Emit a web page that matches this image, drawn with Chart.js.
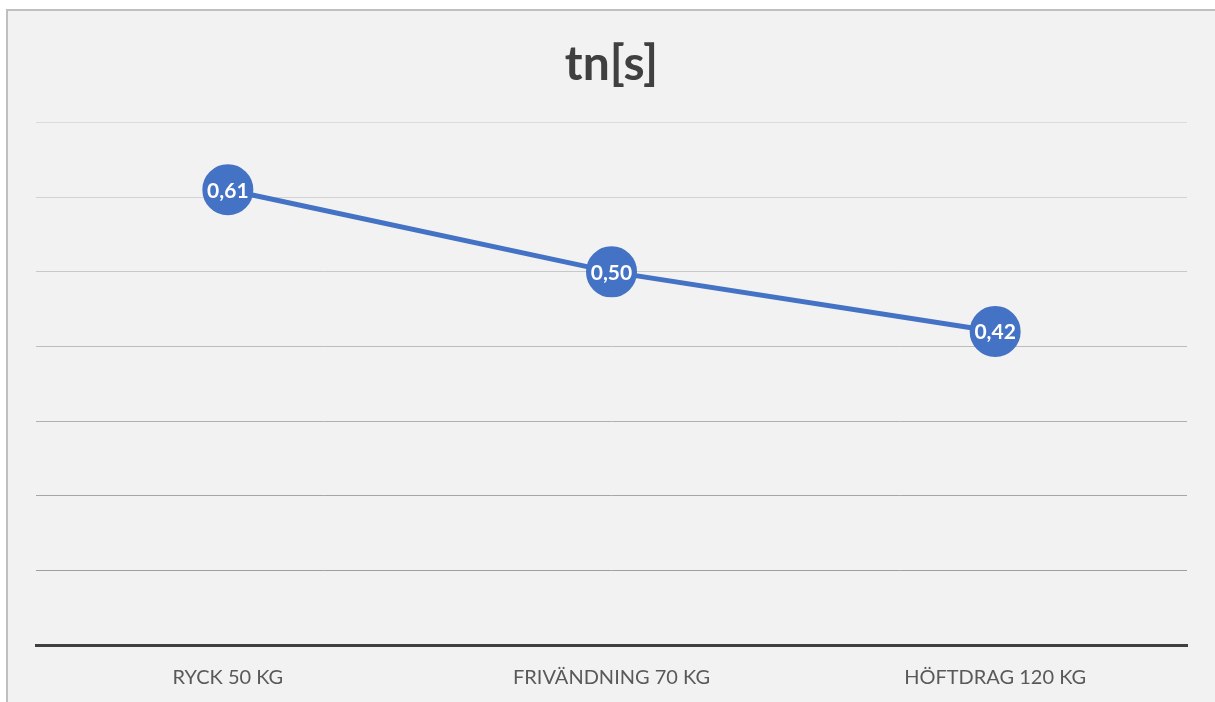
<!DOCTYPE html>
<html>
<head>
<meta charset="utf-8">
<script src="https://cdn.jsdelivr.net/npm/chart.js@4/dist/chart.umd.min.js"></script>
<style>
  html, body { margin: 0; padding: 0; background: #ffffff; }
  #wrap { position: absolute; left: 0; top: 0; width: 1215px; height: 702px; }
</style>
</head>
<body>
<div id="wrap"><canvas id="c" width="1215" height="702"></canvas></div>
<script>
// Lifts and their time values (seconds)
const categories = ['RYCK 50 KG', 'FRIVÄNDNING 70 KG', 'HÖFTDRAG 120 KG'];
const tnValues = [0.61, 0.50, 0.42];
const titleText = 'tn[s]';

const FONT = "Lato, 'Open Sans', sans-serif";

// Panel background with a grey frame on its left and top edges
const panelBackground = {
  id: 'panelBackground',
  beforeDraw(chart) {
    const ctx = chart.ctx;
    ctx.save();
    ctx.fillStyle = '#ffffff';
    ctx.fillRect(0, 0, chart.width, chart.height);
    ctx.fillStyle = '#f2f2f2';
    ctx.fillRect(8, 10, chart.width - 8, chart.height - 10);
    ctx.fillStyle = '#bfbfbf';
    ctx.fillRect(6, 9, 2, chart.height - 9);
    ctx.fillRect(6, 9, chart.width - 6, 2);
    ctx.restore();
  }
};

// White value labels centred inside each point
const pointLabels = {
  id: 'pointLabels',
  afterDatasetsDraw(chart) {
    const ctx = chart.ctx;
    const meta = chart.getDatasetMeta(0);
    const data = chart.data.datasets[0].data;
    ctx.save();
    ctx.fillStyle = '#ffffff';
    ctx.font = `bold 21px ${FONT}`;
    ctx.textAlign = 'center';
    ctx.textBaseline = 'middle';
    meta.data.forEach((pt, i) => {
      const label = data[i].toFixed(2).replace('.', ',');
      ctx.fillText(label, pt.x, pt.y + 1);
    });
    ctx.restore();
  }
};

const gridShades = ['#9a9a9a', '#9e9e9e', '#a6a6a6', '#b0b0b0', '#bcbcbc', '#c8c8c8', '#d2d2d2', '#dadada'];

new Chart(document.getElementById('c'), {
  type: 'line',
  data: {
    labels: categories,
    datasets: [{
      data: tnValues,
      borderColor: '#4472c4',
      borderWidth: 5,
      backgroundColor: '#4472c4',
      pointBackgroundColor: '#4472c4',
      pointBorderColor: '#4472c4',
      pointRadius: 23,
      pointHoverRadius: 23,
      tension: 0,
      fill: false
    }]
  },
  options: {
    responsive: false,
    animation: false,
    devicePixelRatio: 1,
    layout: { padding: { left: 36, right: 28, top: 0, bottom: -1 } },
    plugins: {
      legend: { display: false },
      tooltip: { enabled: false },
      title: {
        display: true,
        text: titleText,
        color: '#404040',
        font: { family: FONT, size: 48, weight: 'bold' },
        padding: { top: 36, bottom: 29 }
      }
    },
    scales: {
      x: {
        offset: true,
        grid: { display: false },
        border: { display: true, color: '#404040', width: 3 },
        ticks: {
          color: '#595959',
          font: { family: FONT, size: 20 },
          padding: 13
        }
      },
      y: {
        min: 0,
        max: 0.7,
        ticks: { display: false, stepSize: 0.1 },
        border: { display: false },
        grid: {
          drawTicks: false,
          lineWidth: 1,
          color: (c) => gridShades[Math.round((c.tick ? c.tick.value : 0) * 10)] || '#d9d9d9'
        }
      }
    }
  },
  plugins: [panelBackground, pointLabels]
});
</script>
</body>
</html>
